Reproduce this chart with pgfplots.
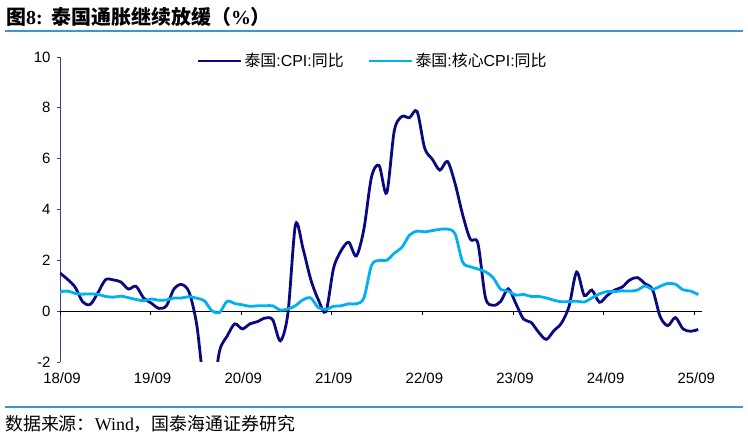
\documentclass[border=0pt]{standalone}
\usepackage{pgfplots}
\pgfplotsset{compat=1.18}
\usepackage{fontspec}
\setmainfont{Liberation Sans}
\newfontfamily\cjk{Noto Sans CJK SC}
\newfontfamily\serifen{Liberation Serif}
\definecolor{cpi}{RGB}{10,10,128}
\definecolor{core}{RGB}{0,176,240}
\definecolor{rulec}{RGB}{61,149,208}
\definecolor{yax}{RGB}{50,70,120}

\pgfplotstableread{
x y
0 1.50
1 1.25
2 0.94
3 0.36
4 0.27
5 0.73
6 1.24
7 1.23
8 1.15
9 0.87
10 0.98
11 0.52
12 0.32
13 0.11
14 0.21
15 0.87
16 1.05
17 0.74
18 -0.54
19 -2.99
20 -3.44
21 -1.57
22 -0.98
23 -0.50
24 -0.70
25 -0.50
26 -0.41
27 -0.27
28 -0.34
29 -1.17
30 -0.08
31 3.41
32 2.44
33 1.25
34 0.45
35 -0.02
36 1.68
37 2.38
38 2.71
39 2.17
40 3.23
41 5.28
42 5.73
43 4.65
44 7.10
45 7.66
46 7.61
47 7.86
48 6.41
49 5.98
50 5.55
51 5.89
52 5.02
53 3.79
54 2.83
55 2.67
56 0.53
57 0.23
58 0.38
59 0.88
60 0.30
61 -0.31
62 -0.44
63 -0.83
64 -1.11
65 -0.77
66 -0.47
67 0.19
68 1.54
69 0.62
70 0.83
71 0.35
72 0.61
73 0.83
74 0.95
75 1.23
76 1.32
77 1.08
78 0.84
79 -0.22
80 -0.57
81 -0.25
82 -0.70
83 -0.79
84 -0.72
}\cpitable

\pgfplotstableread{
x y
0 0.76
1 0.79
2 0.70
3 0.67
4 0.68
5 0.66
6 0.58
7 0.55
8 0.59
9 0.53
10 0.46
11 0.41
12 0.48
13 0.43
14 0.44
15 0.52
16 0.52
17 0.57
18 0.51
19 0.41
20 0.01
21 -0.05
22 0.39
23 0.30
24 0.25
25 0.19
26 0.21
27 0.21
28 0.21
29 0.04
30 0.09
31 0.22
32 0.45
33 0.52
34 0.14
35 0.07
36 0.19
37 0.21
38 0.29
39 0.29
40 0.52
41 1.80
42 2.00
43 2.00
44 2.28
45 2.51
46 2.99
47 3.15
48 3.12
49 3.17
50 3.22
51 3.23
52 3.04
53 1.93
54 1.75
55 1.66
56 1.55
57 1.32
58 0.86
59 0.79
60 0.63
61 0.66
62 0.58
63 0.58
64 0.52
65 0.43
66 0.37
67 0.38
68 0.39
69 0.36
70 0.52
71 0.68
72 0.77
73 0.77
74 0.80
75 0.79
76 0.83
77 0.99
78 0.86
79 0.98
80 1.09
81 1.06
82 0.84
83 0.79
84 0.65
}\coretable

\begin{document}
\begin{tikzpicture}
\useasboundingbox (0,0) rectangle (748bp,434bp);
\node[anchor=west, inner sep=0] at (6bp,417bp) {\fontsize{20}{23}\selectfont{\cjk\bfseries 图}{\serifen\bfseries 8:}\hspace{9bp}{\cjk\bfseries 泰国通胀继续放缓（}{\serifen\bfseries\%}{\cjk\bfseries ）}};
\draw[rulec, line width=2bp] (5bp,403bp) -- (743bp,403bp);
\draw[rulec, line width=2bp] (5bp,27bp) -- (743bp,27bp);
\node[anchor=west, inner sep=0] at (5bp,10bp) {\fontsize{18}{21}\selectfont\cjk 数据来源：{\serifen Wind}，国泰海通证券研究};

\begin{axis}[
  at={(60bp,72bp)}, anchor=south west,
  width=642bp, height=305bp, scale only axis,
  xmin=0, xmax=84.5, ymin=-2, ymax=10,
  axis y line*=left, axis x line*=bottom,
  x axis line style={draw=none},
  y axis line style={yax, line width=0.8bp},
  ytick={-2,0,2,4,6,8,10},
  yticklabels={-2,0,2,4,6,8,10},
  ytick style={yax, line width=0.8bp},
  tick align=outside, major tick length=3bp,
  xtick={0,11.925,23.85,35.775,47.7,59.625,71.55,83.475},
  xticklabels={18/09,19/09,20/09,21/09,22/09,23/09,24/09,25/09},
  xtick style={draw=none},
  ticklabel style={font=\fontsize{15}{18}\selectfont},
  yticklabel style={xshift=-3bp},
  xticklabel style={yshift=-4bp, xshift=2bp},
  legend columns=2,
  legend style={draw=none, fill=none, at={(0.487,0.987)}, anchor=center,
    font=\fontsize{16}{19}\selectfont, inner xsep=1bp,
    nodes={inner xsep=2bp},
    /tikz/every even column/.append style={column sep=22bp}},
  legend image code/.code={\draw[#1] (0bp,0bp) -- (43bp,0bp);},
]
\draw[black, line width=0.8bp] (axis cs:0,0) -- (axis cs:84.5,0);
\pgfplotsinvokeforeach{0,11.925,23.85,35.775,47.7,59.625,71.55,83.475}{
  \draw[black, line width=0.8bp] (axis cs:#1,0) -- ++(0bp,-3.5bp);
}
\addplot[cpi, line width=2.8bp, smooth, tension=0.5, no marks] table[x=x,y=y] {\cpitable};
\addlegendentry{{\cjk 泰国}:CPI:{\cjk 同比}}
\addplot[core, line width=2.8bp, smooth, tension=0.5, no marks] table[x=x,y=y] {\coretable};
\addlegendentry{{\cjk 泰国}:{\cjk 核心}CPI:{\cjk 同比}}
\end{axis}
\end{tikzpicture}
\end{document}
